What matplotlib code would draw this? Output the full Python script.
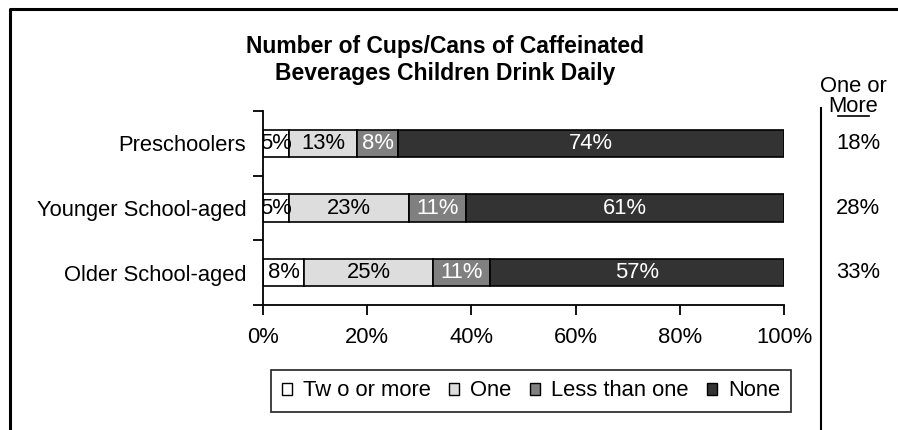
import numpy as np
import matplotlib.pyplot as plt
from matplotlib.lines import Line2D
from matplotlib.transforms import blended_transform_factory

plt.rcParams['font.family'] = ['Liberation Sans', 'DejaVu Sans']

# Survey data
groups = ['Preschoolers', 'Younger School-aged', 'Older School-aged']
series = ['Tw o or more', 'One', 'Less than one', 'None']
two_or_more = [5, 5, 8]
one = [13, 23, 25]
less_than_one = [8, 11, 11]
none = [74, 61, 57]

fills = ['#ffffff', '#dddddd', '#808080', '#333333']
label_colors = ['black', 'black', 'white', 'white']

values = np.array([two_or_more, one, less_than_one, none], dtype=float)
shares = values / values.sum(axis=0) * 100  # 100% stacked
one_or_more = np.array(two_or_more) + np.array(one)

FS = 15.8

fig = plt.figure(figsize=(8.98, 4.3), dpi=100)
ax = fig.add_axes([263 / 898, 1 - 305 / 430, 521 / 898, 194 / 430])

y = np.arange(len(groups))
left = np.zeros(len(groups))
for i, name in enumerate(series):
    ax.barh(y, shares[i], left=left, height=0.42, color=fills[i],
            edgecolor='black', linewidth=1.2, label=name)
    for j in range(len(groups)):
        ax.text(left[j] + shares[i][j] / 2, y[j], f'{int(values[i][j])}%',
                ha='center', va='center', fontsize=FS, color=label_colors[i])
    left += shares[i]

ax.set_xlim(0, 100)
ax.set_ylim(len(groups) - 0.5, -0.5)
ax.set_xticks(np.arange(0, 101, 20))
ax.set_xticklabels([f'{v}%' for v in range(0, 101, 20)])
ax.set_yticks(y)
ax.set_yticklabels(groups)
ax.set_yticks(np.arange(-0.5, len(groups)), minor=True)
ax.tick_params(axis='y', which='major', length=0, pad=12, labelsize=FS)
ax.tick_params(axis='y', which='minor', length=7, width=1.3, direction='out')
ax.tick_params(axis='x', length=7, width=1.3, direction='out', pad=9, labelsize=FS)
for side in ['top', 'right']:
    ax.spines[side].set_visible(False)
for side in ['left', 'bottom']:
    ax.spines[side].set_linewidth(1.3)

fig.text(445 / 898, 1 - 60 / 430,
         'Number of Cups/Cans of Caffeinated\nBeverages Children Drink Daily',
         ha='center', va='center', fontsize=16.5, fontweight='bold', linespacing=1.25)

# side column: one or more cups
fig.text(853 / 898, 1 - 86 / 430, 'One or', ha='center', va='center', fontsize=FS)
fig.text(853 / 898, 1 - 106 / 430, 'More', ha='center', va='center', fontsize=FS)
fig.add_artist(Line2D([838 / 898, 869 / 898], [1 - 116 / 430, 1 - 116 / 430],
                      color='black', linewidth=1.2))
side_tr = blended_transform_factory(fig.transFigure, ax.transData)
for j in range(len(groups)):
    ax.text(858 / 898, y[j], f'{one_or_more[j]}%', transform=side_tr,
            ha='center', va='center', fontsize=FS)

fig.add_artist(Line2D([821 / 898, 821 / 898], [0, 1 - 108 / 430],
                      color='black', linewidth=1.5))
# outer frame (left and top edges)
fig.add_artist(Line2D([10 / 898, 10 / 898, 1], [0, 1 - 9 / 430, 1 - 9 / 430],
                      color='black', linewidth=2.2))

leg = fig.legend(loc='center', bbox_to_anchor=(531 / 898, 1 - 391 / 430), ncol=4,
                 fontsize=FS, frameon=True, fancybox=False, edgecolor='black',
                 handlelength=0.45, handleheight=0.45, handletextpad=0.5,
                 columnspacing=0.85, borderpad=0.5)
leg.get_frame().set_linewidth(1.3)
for h in leg.legend_handles:
    h.set_linewidth(1.0)

fig.savefig('out.png', dpi=100)
